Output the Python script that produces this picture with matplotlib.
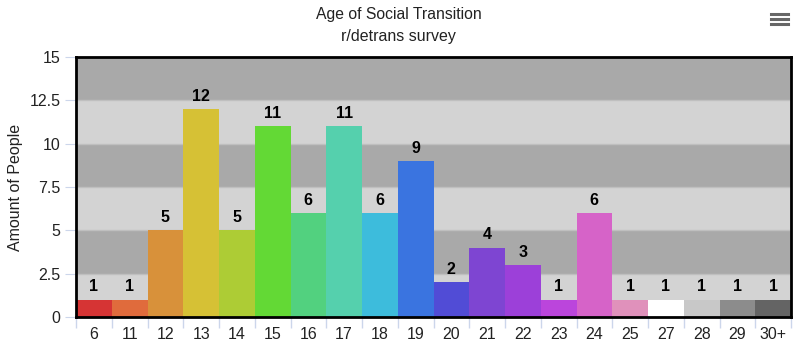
import numpy as np
import matplotlib.pyplot as plt

plt.rcParams['font.family'] = ['Liberation Sans', 'DejaVu Sans']

ages = ['6', '11', '12', '13', '14', '15', '16', '17', '18', '19', '20',
        '21', '22', '23', '24', '25', '27', '28', '29', '30+']
counts = [1, 1, 5, 12, 5, 11, 6, 11, 6, 9, 2, 4, 3, 1, 6, 1, 1, 1, 1, 1]
colors = ['#d63434', '#e06b3c', '#d8913a', '#d6c135', '#adcc35', '#63d935',
          '#52d17f', '#55d0ad', '#3dbcdc', '#3a74e0', '#514cd6', '#7e45d2',
          '#9c40d9', '#bb45dc', '#d663c8', '#e091bb', '#ffffff', '#c8c8c8',
          '#8c8c8c', '#646464']

fig = plt.figure(figsize=(7.97, 3.51), dpi=100)
ax = fig.add_axes([76 / 797, 1 - 317 / 351, 715 / 797, 260 / 351])

# alternating plot bands
for i, lo in enumerate(np.arange(0, 15, 2.5)):
    ax.axhspan(lo, lo + 2.5, color='#d3d3d3' if i % 2 == 0 else '#a9a9a9',
               zorder=0, lw=0)
for y in np.arange(2.5, 15, 2.5):
    ax.axhline(y, color='#bfbfbf', lw=1, zorder=0.5)

x = np.arange(len(ages))
ax.bar(x, counts, width=1.0, color=colors, zorder=2, lw=0)
for xi, c in zip(x, counts):
    ax.text(xi, c + 0.3, str(c), ha='center', va='bottom',
            fontsize=11.5, fontweight='bold', color='black', zorder=3)

ax.set_xlim(-0.5, len(ages) - 0.5)
ax.set_ylim(0, 15)
ax.set_yticks(np.arange(0, 15.1, 2.5))
ax.set_yticklabels(['0', '2.5', '5', '7.5', '10', '12.5', '15'])
ax.set_xticks(x)
ax.set_xticklabels(ages)
ax.set_xticks(np.arange(-0.5, len(ages), 1), minor=True)
ax.tick_params(axis='x', which='major', length=0, labelsize=11.5, pad=7,
               colors='#222222')
ax.tick_params(axis='x', which='minor', length=8, color='#ccd6eb', width=1)
ax.tick_params(axis='y', length=8, color='#ccd6eb', labelsize=11.5, pad=3,
               labelcolor='#222222')
for s in ax.spines.values():
    s.set_linewidth(2)
    s.set_color('black')

ax.set_ylabel('Amount of People', fontsize=11.5, color='#222222', labelpad=5)

fig.text(0.5, 1 - 15 / 351, 'Age of Social Transition', ha='center',
         va='center', fontsize=11.3, color='#222222')
fig.text(0.5, 1 - 37 / 351, 'r/detrans survey', ha='center', va='center',
         fontsize=11.5, color='#222222')

# menu icon
for dy in (14, 19, 24):
    fig.add_artist(plt.Line2D([771 / 797, 788 / 797], [1 - dy / 351] * 2,
                              color='#666666', lw=2.2))

plt.savefig('out.png', dpi=100)
